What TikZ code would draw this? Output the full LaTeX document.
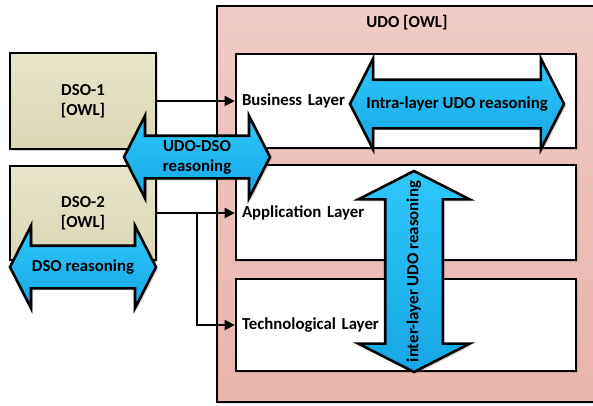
\documentclass[tikz,border=0pt]{standalone}
\usepackage{fontspec}
\setmainfont{Carlito}
\usetikzlibrary{shapes.arrows,shadows,arrows.meta}

\definecolor{udotop}{HTML}{F0CBC5}
\definecolor{udobot}{HTML}{E8B4AC}
\definecolor{dsotop}{HTML}{E7E4C9}
\definecolor{dsobot}{HTML}{DCD7B5}
\definecolor{reastop}{HTML}{2DC8FA}
\definecolor{reasbot}{HTML}{17A6E6}

\tikzset{
  softshadow/.style={drop shadow={opacity=0.3,shadow xshift=2pt,shadow yshift=-2pt}},
  udobox/.style={draw,line width=2.6pt,top color=udotop,bottom color=udobot,
    minimum width=379pt,minimum height=396pt,softshadow},
  layerbox/.style={draw,line width=2.6pt,fill=white,text width=328pt,align=left,
    inner xsep=6pt,softshadow},
  dsobox/.style={draw,line width=2.6pt,top color=dsotop,bottom color=dsobot,
    minimum width=146pt,align=center,softshadow},
  reasoning/.style={double arrow,draw,line width=2.6pt,top color=reastop,
    bottom color=reasbot,double arrow tip angle=126,double arrow head indent=0pt,
    inner xsep=0pt,softshadow}
}

\begin{document}
\begin{tikzpicture}[x=1pt,y=-1pt,font=\fontsize{16.8}{20}\selectfont\bfseries,
    >={Triangle[length=10pt,width=10pt]}]

    \useasboundingbox (0,0) rectangle (593,405);

    % UDO and its layers
    \draw(406.5,204) node[udobox] (udo) {};
    \draw(407,23) node (udotitle) {UDO [OWL]};
    \draw(406,101) node[layerbox,minimum height=94pt] (busl) {Business Layer};
    \draw(406,212.5) node[layerbox,minimum height=95pt] (appl) {Application Layer};
    \draw(406,325) node[layerbox,minimum height=92pt] (tech) {Technological Layer};

    % domain ontologies
    \draw(83,101) node[dsobox,minimum height=96pt] (dso1) {DSO-1\\{[OWL]}};
    \draw(83,213) node[dsobox,minimum height=94pt] (dso2) {DSO-2\\{[OWL]}};

    \coordinate (split) at (197,213);
    \draw[line width=2pt,->] (dso1) -- (busl);
    \draw[line width=2pt,->] (dso2.east) -- (dso2.east -| appl.west);
    \draw[line width=2pt,->] (split) |- (tech.west);

    % reasoning arrows
    \draw(197,157) node[reasoning,minimum height=146pt,inner ysep=20pt,
        double arrow head extend=20pt] (udodso) {};
    \draw(197,157) node[align=center] (udodsotext) {UDO-DSO\\reasoning};
    \draw(457,104) node[reasoning,minimum height=214pt,inner ysep=23pt,
        double arrow head extend=21pt] (intra) {};
    \draw(457,104) node (intratext) {Intra-layer UDO reasoning};
    \draw(83,267) node[reasoning,minimum height=146pt,inner ysep=20pt,
        double arrow head extend=20pt] (dsoreas) {};
    \draw(83,267) node (dsoreastext) {DSO reasoning};
    \draw(414,271.5) node[reasoning,rotate=90,minimum height=201pt,inner ysep=27.5pt,
        double arrow head extend=27pt] (inter) {};
    \draw(414,271.5) node[rotate=90] (intertext) {inter-layer UDO reasoning};

\end{tikzpicture}
\end{document}
